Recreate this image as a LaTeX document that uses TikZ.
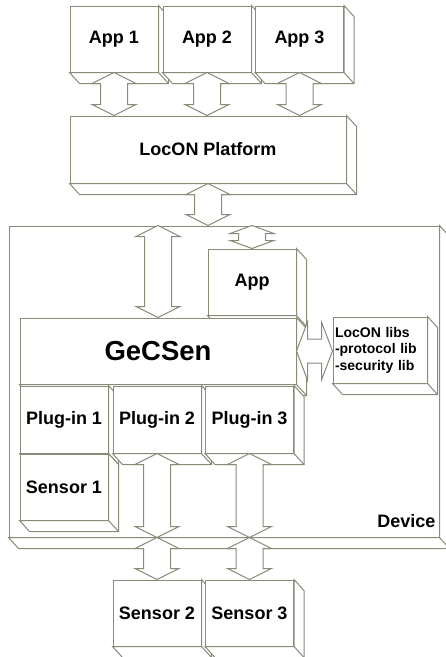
\documentclass[tikz,border=0pt]{standalone}
\usepackage{fontspec}
\setsansfont{Liberation Sans}
\usepackage{tikz}
\usetikzlibrary{calc}
\definecolor{edge}{HTML}{8A8A78}

% depth faces of a block (right and bottom)
\newcommand{\extr}[1]{%
  \draw[wire,fill=white] (#1.north east) -- ++(10,11) -- ($(#1.south east)+(10,11)$)
     -- ($(#1.south west)+(10,11)$) -- (#1.south west) -- (#1.south east) -- cycle;
  \draw[wire] (#1.south east) -- ++(10,11);}
% hollow double arrow, vertical; [head length]{top}{bottom}
\newcommand{\vlink}[3][11]{%
  \draw[lnk] (#2) -- ++(22,#1) -- ++(-8.5,0) -- ($(#2|-#3)+(13.5,-#1)$) -- ++(8.5,0)
     -- (#2|-#3) -- ++(-22,-#1) -- ++(8.5,0) -- ($(#2)+(-13.5,#1)$) -- ++(-8.5,0) -- cycle;}
% hollow double arrow, horizontal; {left}{right}
\newcommand{\hlink}[2]{%
  \draw[lnk] (#1) -- ++(11,-29) -- ++(0,17) -- ($(#2|-#1)+(-11,-12)$) -- ++(0,-17)
     -- (#2|-#1) -- ++(-11,29) -- ++(0,-17) -- ($(#1)+(11,12)$) -- ++(0,17) -- cycle;}

\begin{document}
\begin{tikzpicture}[x=1pt,y=-1pt,
   wire/.style={draw=edge,line width=1pt,line join=miter},
   lnk/.style={wire,fill=white},
   blk/.style={wire,fill=white,inner sep=0pt,minimum width=88pt,minimum height=66pt,
      font=\sffamily\bfseries\fontsize{18}{21}\selectfont}]
  \useasboundingbox (0,0) rectangle (446,657);
  % applications and platform
  \foreach \i/\x in {1/114,2/207,3/299.5}{
     \node[blk] (app\i) at (\x,39) {App \i};
     \extr{app\i}}
  \node[blk,minimum width=276pt,minimum height=67pt] (plat) at (208,149.5) {LocON Platform};
  \extr{plat}
  \foreach \i in {1,2,3}{\vlink{app\i.south}{plat.north}}
  % the device
  \node[wire,fill=white,inner sep=0pt,minimum width=430pt,minimum height=311pt] (dev) at (224,381.5) {};
  \extr{dev}
  \node[font=\sffamily\bfseries\fontsize{18}{21}\selectfont,inner sep=0pt,anchor=base east]
     (devlbl) at ($(dev.south east)+(-4,-10)$) {Device};
  \node[blk] (app) at (252,282) {App};
  \extr{app}
  \node[blk,minimum width=276pt,font=\sffamily\bfseries\fontsize{27.5}{30}\selectfont] (gecsen) at (158,351) {GeCSen};
  \extr{gecsen}
  \node[blk,text width=90pt,inner xsep=2pt,align=left,
     font=\sffamily\bfseries\fontsize{14}{16.5}\selectfont] (libs) at (380,350)
     {LocON libs\\-protocol lib\\-security lib};
  \extr{libs}
  \foreach \i/\x in {1/64,2/157,3/249.5}{
     \node[blk,minimum height=67pt] (plug\i) at (\x,419.5) {Plug-in \i};
     \extr{plug\i}}
  \node[blk] (sens1) at (64,487) {Sensor 1};
  \extr{sens1}
  % outside sensors
  \foreach \i/\x in {2/157,3/249.5}{
     \node[blk] (sens\i) at (\x,613) {Sensor \i};
     \extr{sens\i}}
  % links
  \coordinate (gtop) at (dev.north -| gecsen.north);
  \coordinate (atop) at (dev.north -| app.north);
  \vlink{plat.south}{dev.north}
  \vlink{gtop}{gecsen.north}
  \vlink[8]{atop}{app.north}
  \hlink{gecsen.east}{libs.west}
  \foreach \i in {2,3}{
     \coordinate (x\i) at (plug\i.south |- dev.south);
     \vlink{plug\i.south}{x\i}
     \vlink{x\i}{sens\i.north}}
\end{tikzpicture}
\end{document}
